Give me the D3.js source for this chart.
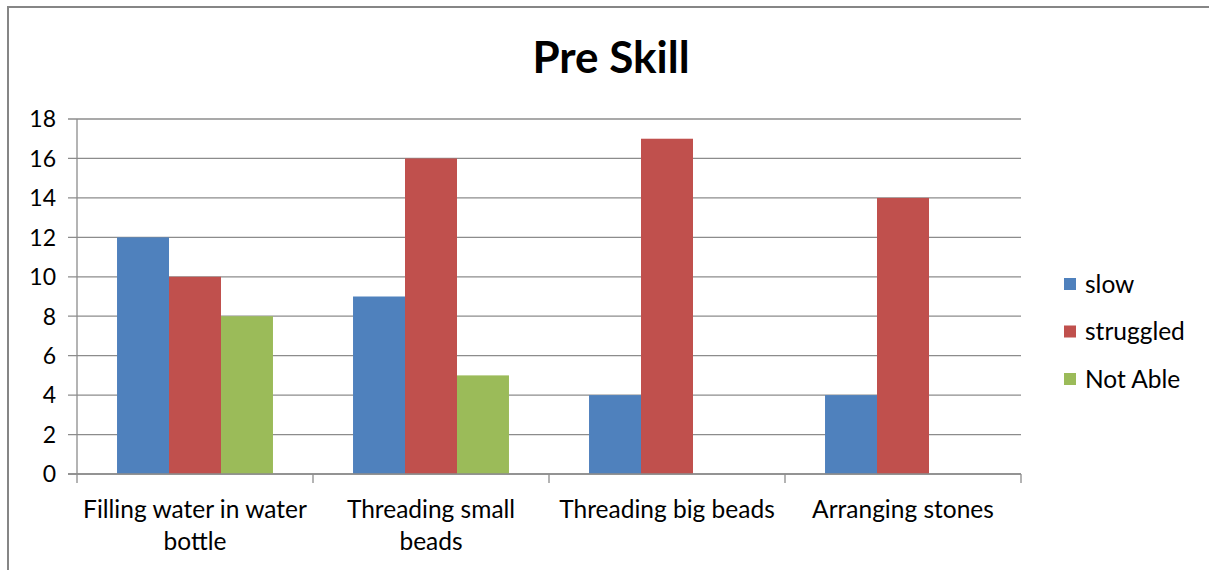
<!DOCTYPE html>
<html><head><meta charset="utf-8">
<script src="https://cdn.jsdelivr.net/npm/d3@7"></script>
<style>body{margin:0;background:#fff}svg{display:block}text{font-family:Lato,"Open Sans",sans-serif;fill:#000}</style>
</head><body><svg id="c" width="1209" height="570"></svg>
<script>
const title = "Pre Skill";
const categories = ["Filling water in water bottle","Threading small beads","Threading big beads","Arranging stones"];
const seriesNames = ["slow","struggled","Not Able"];
const slow = [12, 9, 4, 4];
const struggled = [10, 16, 17, 14];
const notAble = [8, 5, 0, 0];
const yTicks = [0,2,4,6,8,10,12,14,16,18];
const colors = ["#4F81BD","#C0504D","#9BBB59"];
const seriesValues = [slow, struggled, notAble];

const svg = d3.select("#c");
svg.append("rect").attr("x",8).attr("y",7).attr("width",1220).attr("height",580)
  .attr("fill","none").attr("stroke","#868686").attr("stroke-width",2);

const L=77, R=1021, T=119, B=474;
const x0 = d3.scaleBand().domain(categories).range([L,R]).paddingInner(0).paddingOuter(0);
const x1 = d3.scaleBand().domain(seriesNames).range([0,x0.bandwidth()]).paddingInner(0).paddingOuter(0.77);
const y = d3.scaleLinear().domain([0,18]).range([B,T]);

// gridlines
svg.append("g").selectAll("line").data(yTicks).join("line")
  .attr("x1",L-9).attr("x2",R).attr("y1",d=>y(d)).attr("y2",d=>y(d))
  .attr("stroke","#8c8c8c").attr("stroke-width",1.3);
// y axis line
svg.append("line").attr("x1",L).attr("x2",L).attr("y1",T).attr("y2",B).attr("stroke","#8c8c8c").attr("stroke-width",1.3);
// y labels
svg.append("g").selectAll("text").data(yTicks).join("text")
  .attr("x",56).attr("y",d=>y(d)).attr("dy","0.36em").attr("text-anchor","end")
  .style("font-size","23px").text(d=>d);
// x tick marks at category boundaries
const bounds = categories.map(c=>x0(c)).concat([R]);
svg.append("g").selectAll("line").data(bounds).join("line")
  .attr("x1",d=>d).attr("x2",d=>d).attr("y1",B).attr("y2",B+9)
  .attr("stroke","#8c8c8c").attr("stroke-width",1.3);

// bars
const groups = svg.append("g").selectAll("g").data(categories).join("g")
  .attr("transform",c=>`translate(${x0(c)},0)`);
groups.selectAll("rect").data((c,i)=>seriesNames.map((s,j)=>({s,j,v:seriesValues[j][i]})))
  .join("rect")
  .attr("x",d=>x1(d.s)).attr("width",x1.bandwidth())
  .attr("y",d=>y(d.v)).attr("height",d=>B-y(d.v))
  .attr("fill",d=>colors[d.j]);

// x axis baseline on top of bars
svg.append("line").attr("x1",L-9).attr("x2",R).attr("y1",B).attr("y2",B).attr("stroke","#8c8c8c").attr("stroke-width",1.3);

// category labels with wrapping
const fs = "24.5px";
const maxW = 234;
categories.forEach(c=>{
  const cx = x0(c)+x0.bandwidth()/2;
  const t = svg.append("text").attr("x",cx).attr("y",518).attr("text-anchor","middle").style("font-size",fs);
  const words = c.split(" ");
  let lines=[], cur=[];
  const probe = svg.append("text").style("font-size",fs);
  words.forEach(w=>{
    const trial = cur.concat([w]).join(" ");
    probe.text(trial);
    if(probe.node().getComputedTextLength()>maxW && cur.length){ lines.push(cur.join(" ")); cur=[w]; }
    else cur.push(w);
  });
  lines.push(cur.join(" "));
  probe.remove();
  lines.forEach((ln,i)=>t.append("tspan").attr("x",cx).attr("dy",i?32:0).text(ln));
});

// title
svg.append("text").attr("x",611).attr("y",73).attr("text-anchor","middle")
  .style("font-size","44px").style("font-weight","bold").text(title);

// legend
const lg = svg.append("g").selectAll("g").data(seriesNames).join("g")
  .attr("transform",(d,i)=>`translate(1064,${284+i*47.5})`);
lg.append("rect").attr("x",0).attr("y",-6).attr("width",12).attr("height",12).attr("fill",(d,i)=>colors[i]);
lg.append("text").attr("x",21).attr("y",0).attr("dy","0.36em").style("font-size","24.5px").text(d=>d);
</script></body></html>
